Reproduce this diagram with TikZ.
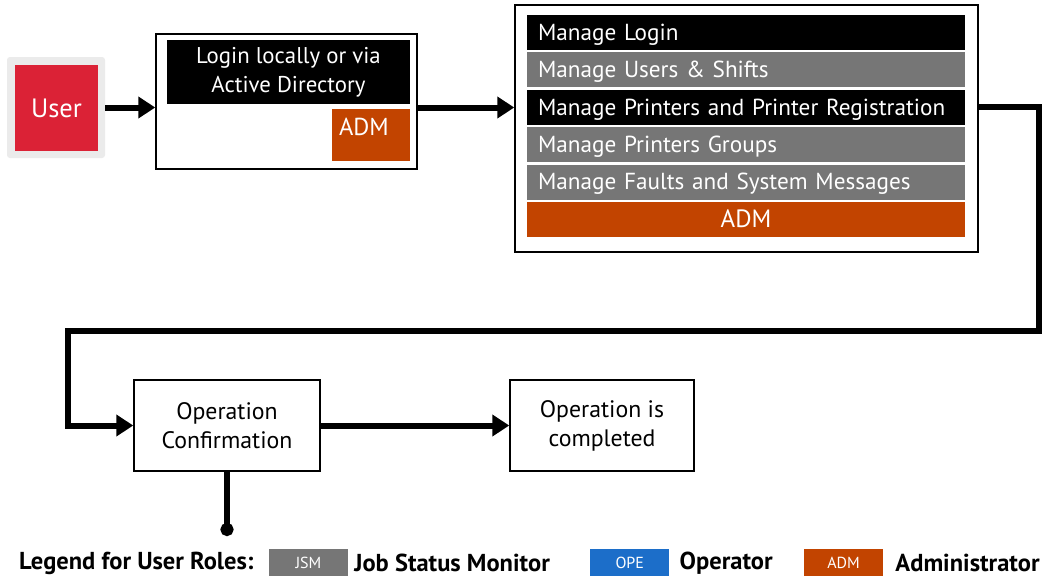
\documentclass[tikz,border=0pt]{standalone}
\usepackage{fontspec}
\setmainfont{PT Sans}
\usepackage{tikz}
\usetikzlibrary{positioning}
\usetikzlibrary{matrix,arrows.meta}
\usepackage{xcolor}
\definecolor{usrred}{HTML}{DB2236}
\definecolor{usrback}{HTML}{EBEBEB}
\definecolor{admorange}{HTML}{C24400}
\definecolor{jsmgray}{HTML}{767676}
\definecolor{opeblue}{HTML}{1C6EC9}
\pgfkeys{tikz/flowbox/.style={draw=black,line width=1.5pt,fill=white,align=center,inner sep=0pt,font=\fontsize{23.8}{29}\selectfont}}
\pgfkeys{tikz/flowline/.style={line width=6pt,-{Triangle[length=17pt,width=21pt]}}}
\pgfkeys{tikz/rolekey/.style={minimum width=79pt,minimum height=27pt,inner sep=0pt,text=white,font=\fontsize{16}{16}\selectfont}}
\pgfkeys{tikz/rolename/.style={inner sep=0pt,font=\bfseries\fontsize{24.5}{24.5}\selectfont}}
\newcommand*\rolelegend[4]{
  \node[rolekey,fill=#3,right=#4 of #1] (key-#2) {#2};
}

\begin{document}
\begin{tikzpicture}[x=1pt,y=-1pt]
	\useasboundingbox[fill=white] (0,0) rectangle (1042,579);

	% user
	\node[fill=usrback,rounded corners=3pt,minimum width=98pt,minimum height=101pt] (usr) at (56,107.5) {};
	\node[fill=usrred,text=white,minimum width=83pt,minimum height=86pt,font=\fontsize{26.5}{26.5}\selectfont] (usr-in) at (56.5,108) {User};

	% login
	\node[flowbox,minimum width=261pt,minimum height=135pt] (login) at (286.5,101.5) {};
	\node[fill=black,text=white,minimum width=243pt,minimum height=64pt,align=center,inner sep=0pt,font=\fontsize{22.8}{29}\selectfont] (login-txt) at (288.5,72) {Login locally or via\\Active Directory};
	\node[fill=admorange,text=white,minimum width=78pt,inner sep=0pt,text height=26pt,text depth=26pt,font=\fontsize{24.5}{24.5}\selectfont] (login-adm) at (371,135) {\hspace*{-14pt}ADM};

	% manage
	\node[flowbox,minimum width=463pt,minimum height=247pt] (mngbox) at (746.5,128.5) {};
	\matrix (mng) at (746,126) [matrix of nodes,row sep=2.4pt,inner sep=0pt,
	  nodes={
	  text width=416pt,
	  minimum height=35pt,
	  inner xsep=11pt,
	  inner ysep=0pt,
	  text height=18.5pt,
	  text depth=3pt,
	  anchor=center,
	  align=left,
	  text=white,
	  font=\fontsize{23.2}{23.2}\selectfont
	}]
	{
		|[fill=black]| Manage Login\\
		|[fill=jsmgray]| Manage Users \& Shifts\\
		|[fill=black]| Manage Printers and Printer Registration\\
		|[fill=jsmgray]| Manage Printers Groups\\
		|[fill=jsmgray]| Manage Faults and System Messages\\
		|[fill=admorange,align=center,font=\fontsize{25}{25}\selectfont]| ADM\\
	};

	% confirmation
	\node[flowbox,minimum width=186pt,minimum height=91pt] (opconf) at (227,425.5) {Operation\\Confirmation};
	\node[flowbox,minimum width=184pt,minimum height=91pt] (done) at (602,425.5) {Operation is\\completed};

	\coordinate (turn-a) at (1039,331);
	\coordinate (turn-b) at (68,331);
	\coordinate (dot-end) at (227,536);

	\draw[flowline] (usr.east) -- (usr.east -| login.west);
	\draw[flowline] (login.east |- usr.east) -- (mngbox.west |- usr.east);
	\draw[flowline] (mng-3-1.east -| mngbox.east) -| (turn-a) -- (turn-b) |- (opconf.west);
	\draw[flowline] (opconf.east) -- (done.west);
	\draw[line width=6pt,-{Circle[length=13pt]}] (opconf.south) -- (dot-end);

	% legend
	\node[rolename,anchor=base west] (legend) at (19,569) {Legend for User Roles:};
	\rolelegend{legend}{JSM}{jsmgray}{15pt}
	\node[rolename,right=6pt of key-JSM] (name-JSM) {Job Status Monitor};
	\rolelegend{name-JSM}{OPE}{opeblue}{40pt}
	\node[rolename,right=10pt of key-OPE] (name-OPE) {Operator};
	\rolelegend{name-OPE}{ADM}{admorange}{31pt}
	\node[rolename,right=12pt of key-ADM] (name-ADM) {Administrator};

\end{tikzpicture}
\end{document}
